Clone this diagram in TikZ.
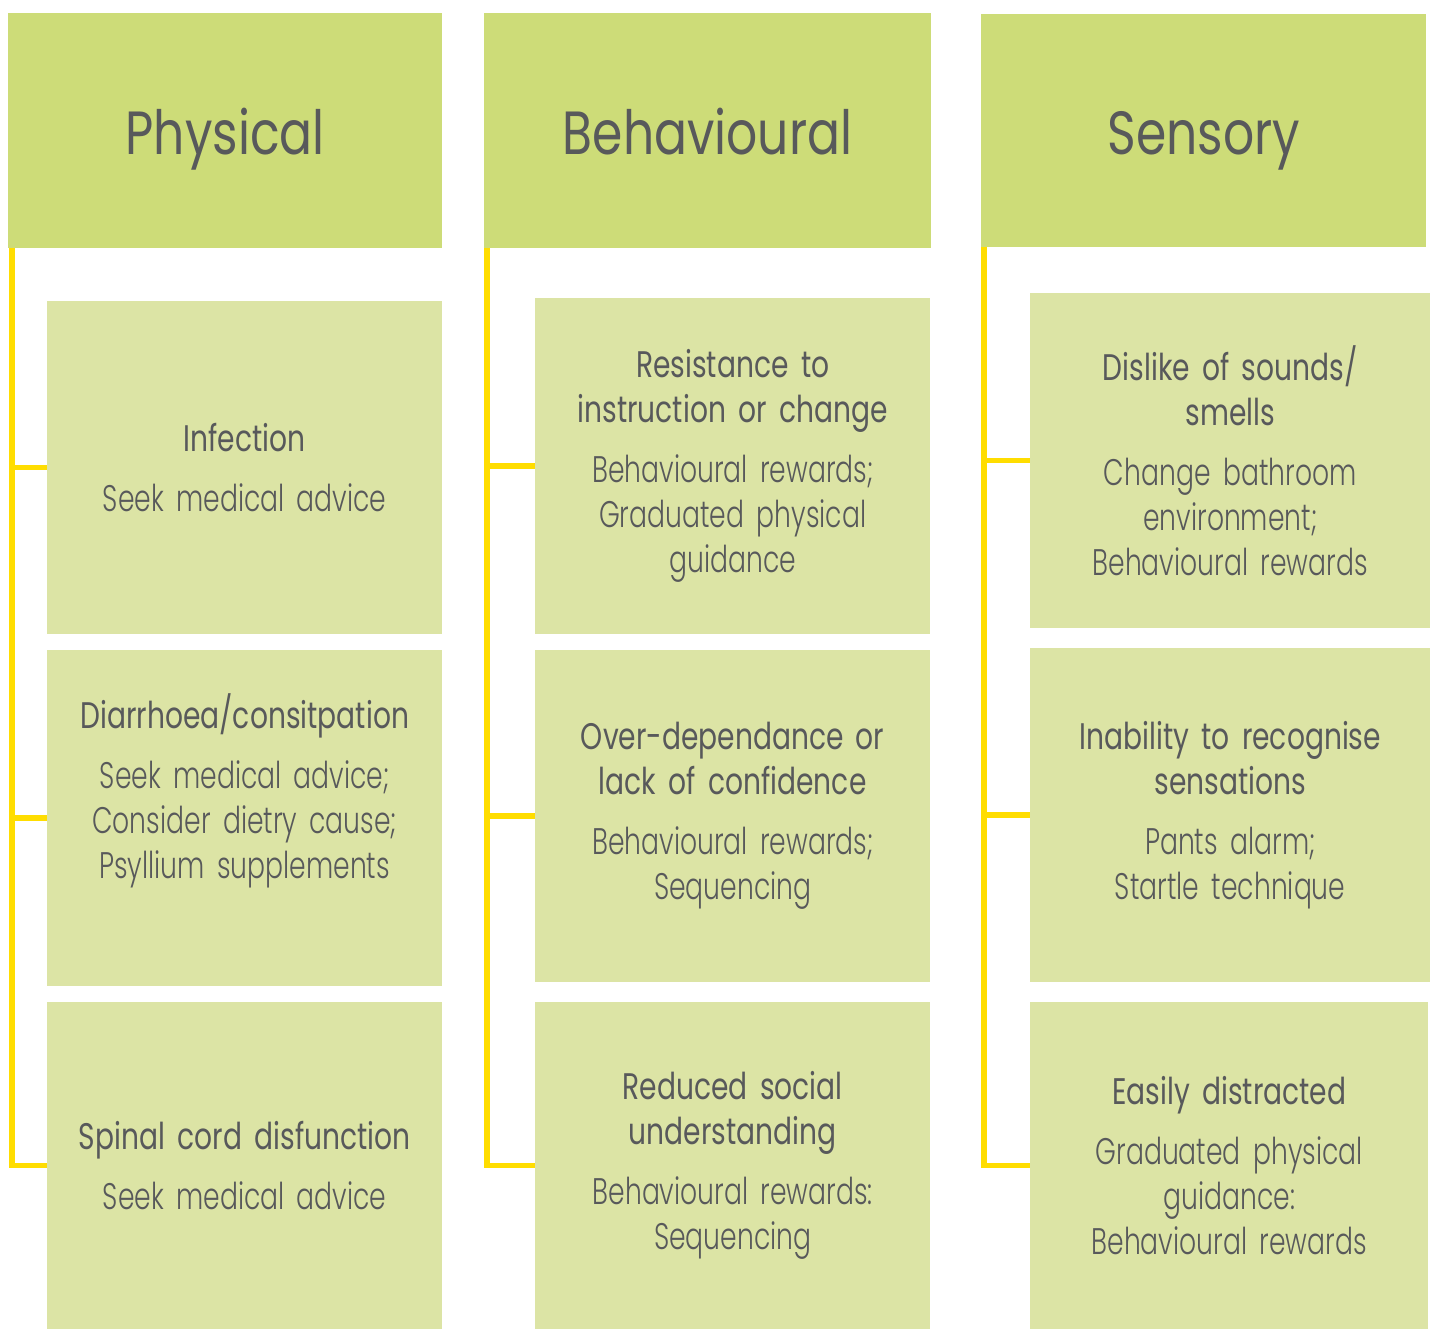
\documentclass[tikz,border=0pt]{standalone}
\usepackage{fontspec}
\newfontfamily\headfont[FakeStretch=0.8]{Poppins}
\newfontfamily\titlefont[FakeStretch=0.76]{Poppins}
\newfontfamily\bodyfont[FakeStretch=0.72]{Poppins Light}
\definecolor{headgreen}{HTML}{CDDC78}
\definecolor{itemgreen}{HTML}{DCE4A5}
\definecolor{linkyellow}{HTML}{FFDD00}
\definecolor{textgray}{HTML}{58595B}
\tikzset{
  head/.style={fill=headgreen, anchor=north west, inner sep=0pt, text=textgray,
    text height=55pt, text depth=8pt, font=\headfont\fontsize{61}{70}\selectfont},
  item/.style={fill=itemgreen, anchor=north west, inner sep=0pt, text=textgray,
    text width=395pt, align=center, font=\bodyfont\fontsize{37}{45}\selectfont},
  link/.style={draw=linkyellow, line width=5.5pt}
}
\begin{document}
\begin{tikzpicture}[x=1pt,y=-1pt]
	\fill[white] (0,0) rectangle (1435,1329);
	\useasboundingbox (0,0) rectangle (1435,1329);
	% Headers
	\node[head, minimum width=434pt, minimum height=235pt] (phys) at (8,13)   {Physical};
	\node[head, minimum width=447pt, minimum height=235pt] (beha) at (484,13) {Behavioural};
	\node[head, minimum width=445pt, minimum height=233pt] (sens) at (981,14) {Sensory};
	% Physical
	\node[item, minimum height=333pt] (phys1) at (47,301)
		{{\titlefont Infection}\\[15pt]Seek medical advice};
	\node[item, minimum height=336pt] (phys2) at (47,650)
		{{\titlefont Diarrhoea/consitpation}\\[15pt]Seek medical advice;\\Consider dietry cause;\\Psyllium supplements\\[20pt] \mbox{}};
	\node[item, minimum height=327pt] (phys3) at (47,1002)
		{{\titlefont Spinal cord disfunction}\\[15pt]Seek medical advice};
	% Behavioural
	\node[item, minimum height=336pt] (beha1) at (535,298)
		{{\titlefont Resistance to\\instruction or change}\\[15pt]Behavioural rewards;\\Graduated physical\\guidance};
	\node[item, minimum height=332pt] (beha2) at (535,650)
		{{\titlefont Over-dependance or\\lack of confidence}\\[15pt]Behavioural rewards;\\Sequencing};
	\node[item, minimum height=327pt] (beha3) at (535,1002)
		{{\titlefont Reduced social\\understanding}\\[15pt]Behavioural rewards:\\Sequencing};
	% Sensory
	\node[item, minimum width=400pt, minimum height=335pt] (sens1) at (1030,293)
		{{\titlefont Dislike of sounds/\\smells}\\[15pt]Change bathroom\\environment;\\Behavioural rewards};
	\node[item, minimum width=400pt, minimum height=334pt] (sens2) at (1030,648)
		{{\titlefont Inability to recognise\\sensations}\\[15pt]Pants alarm;\\Startle technique};
	\node[item, minimum width=398pt, minimum height=327pt] (sens3) at (1030,1002)
		{{\titlefont Easily distracted}\\[15pt]Graduated physical\\guidance:\\Behavioural rewards};
	% Spines
	\coordinate (physspine) at ([xshift=4pt]phys.south west);
	\coordinate (behaspine) at ([xshift=3pt]beha.south west);
	\coordinate (sensspine) at ([xshift=3pt]sens.south west);
	\draw[link] (physspine) |- (phys3.west);
	\draw[link] (physspine |- phys1.west) -- (phys1.west);
	\draw[link] (physspine |- phys2.west) -- (phys2.west);
	\draw[link] (behaspine) |- (beha3.west);
	\draw[link] (behaspine |- beha1.west) -- (beha1.west);
	\draw[link] (behaspine |- beha2.west) -- (beha2.west);
	\draw[link] (sensspine) |- (sens3.west);
	\draw[link] (sensspine |- sens1.west) -- (sens1.west);
	\draw[link] (sensspine |- sens2.west) -- (sens2.west);
\end{tikzpicture}
\end{document}
